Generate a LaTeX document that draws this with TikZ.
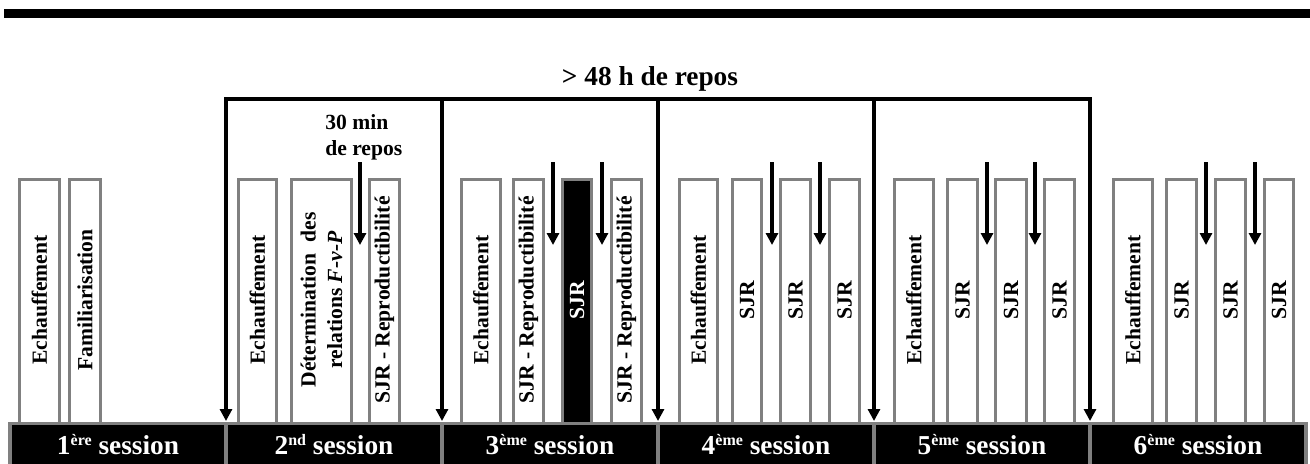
\documentclass[tikz,border=0pt]{standalone}
\usepackage{fontspec}
\setmainfont{Liberation Serif}
\usetikzlibrary{arrows.meta}
\definecolor{framegray}{RGB}{128,128,128}
\newcommand\sessup[1]{\raisebox{0.3em}{\fontsize{12}{12}\selectfont #1}}
\def\phase(#1)(#2:#3)#4{\draw[phasebox] (#2+1.7,179.7) rectangle (#3-1.7,430); \node[phaselabel] (#1) at ({(#2+#3)/2},300) {#4};}
\def\session(#1)(#2)#3{\draw[sessionbox] (#2,423.5) rectangle (#2+216,480); \node[sessionlabel] (#1) at (#2+108,454) {#3};}
\tikzset{
  phasebox/.style={draw=framegray, line width=2.5pt, fill=white},
  phaselabel/.style={rotate=90, inner sep=0pt, align=center, font=\fontsize{16.2}{20}\selectfont\bfseries},
  sessionbox/.style={draw=framegray, line width=2.5pt, fill=black},
  sessionlabel/.style={anchor=base, inner sep=0pt, text=white, font=\fontsize{20.5}{24}\selectfont\bfseries},
  restline/.style={line width=2.4pt, line join=miter},
  resttip/.tip={Triangle[width=9pt,length=9pt]}
}

\begin{document}
\begin{tikzpicture}[x=0.75pt, y=-0.75pt]
			%%%%% FRAME %%%%%
			\useasboundingbox (0,0) rectangle (1310,464);
			\fill[black] (4,9) rectangle (1310,18);
			
			%%%%% 1st session %%%%%
			\phase(ech1)(18:61){Echauffement}
			\phase(fam1)(68:102){Familiarisation}
			
			%%%%% 2nd session %%%%%
			\phase(ech2)(237:278){Echauffement}
			\phase(fvp2)(290:353){Détermination\hspace{0.5em}des\\relations \textit{F-ν-P}}
			\phase(rep2)(368:401){SJR - Reproductibilité}
			
			%%%%% 3rd session %%%%%
			\phase(ech3)(460:502){Echauffement}
			\phase(repa3)(512:545){SJR - Reproductibilité}
			\draw[phasebox, fill=black] (561+1.7,179.7) rectangle (593-1.7,430);
			\node[phaselabel, text=white] (sjr3) at (577,300) {SJR};
			\phase(repb3)(610:643){SJR - Reproductibilité}
			
			%%%%% 4th session %%%%%
			\phase(ech4)(678:719){Echauffement}
			\phase(sjra4)(731:763){SJR}
			\phase(sjrb4)(779:812){SJR}
			\phase(sjrc4)(828:861){SJR}
			
			%%%%% 5th session %%%%%
			\phase(ech5)(893:935){Echauffement}
			\phase(sjra5)(946:979){SJR}
			\phase(sjrb5)(994:1028){SJR}
			\phase(sjrc5)(1043:1076){SJR}
			
			%%%%% 6th session %%%%%
			\phase(ech6)(1112:1154){Echauffement}
			\phase(sjra6)(1165:1198){SJR}
			\phase(sjrb6)(1214:1247){SJR}
			\phase(sjrc6)(1263:1295){SJR}
			
			%%%%% session bar %%%%%
			\session(ses1)(10){1\sessup{ère} session}
			\session(ses2)(226){2\sessup{nd} session}
			\session(ses3)(442){3\sessup{ème} session}
			\session(ses4)(658){4\sessup{ème} session}
			\session(ses5)(874){5\sessup{ème} session}
			\session(ses6)(1090){6\sessup{ème} session}
			
			%%%%% rest between sessions %%%%%
			\draw[restline, resttip-resttip] (226,421) |- (1090,99) -- (1090,421);
			\draw[restline, -resttip] (442,99) -- (442,421);
			\draw[restline, -resttip] (658,99) -- (658,421);
			\draw[restline, -resttip] (874,99) -- (874,421);
			\node[anchor=base, inner sep=0pt, font=\fontsize{20.5}{24}\selectfont\bfseries] (rest48) at (650,85) {> 48 h de repos};
			
			%%%%% rest within sessions %%%%%
			\node[anchor=north west, inner sep=0pt, align=left, font=\fontsize{16.2}{19.5}\selectfont\bfseries] (rest30) at (325,114) {30 min\\de repos};
			\draw[restline, -resttip] (360,162) -- (360,245);
			\draw[restline, -resttip] (553,162) -- (553,245);
			\draw[restline, -resttip] (602,162) -- (602,245);
			\draw[restline, -resttip] (772,162) -- (772,245);
			\draw[restline, -resttip] (820,162) -- (820,245);
			\draw[restline, -resttip] (987,162) -- (987,245);
			\draw[restline, -resttip] (1035,162) -- (1035,245);
			\draw[restline, -resttip] (1206,162) -- (1206,245);
			\draw[restline, -resttip] (1255,162) -- (1255,245);
			%%%%% END %%%%%
\end{tikzpicture}
\end{document}
